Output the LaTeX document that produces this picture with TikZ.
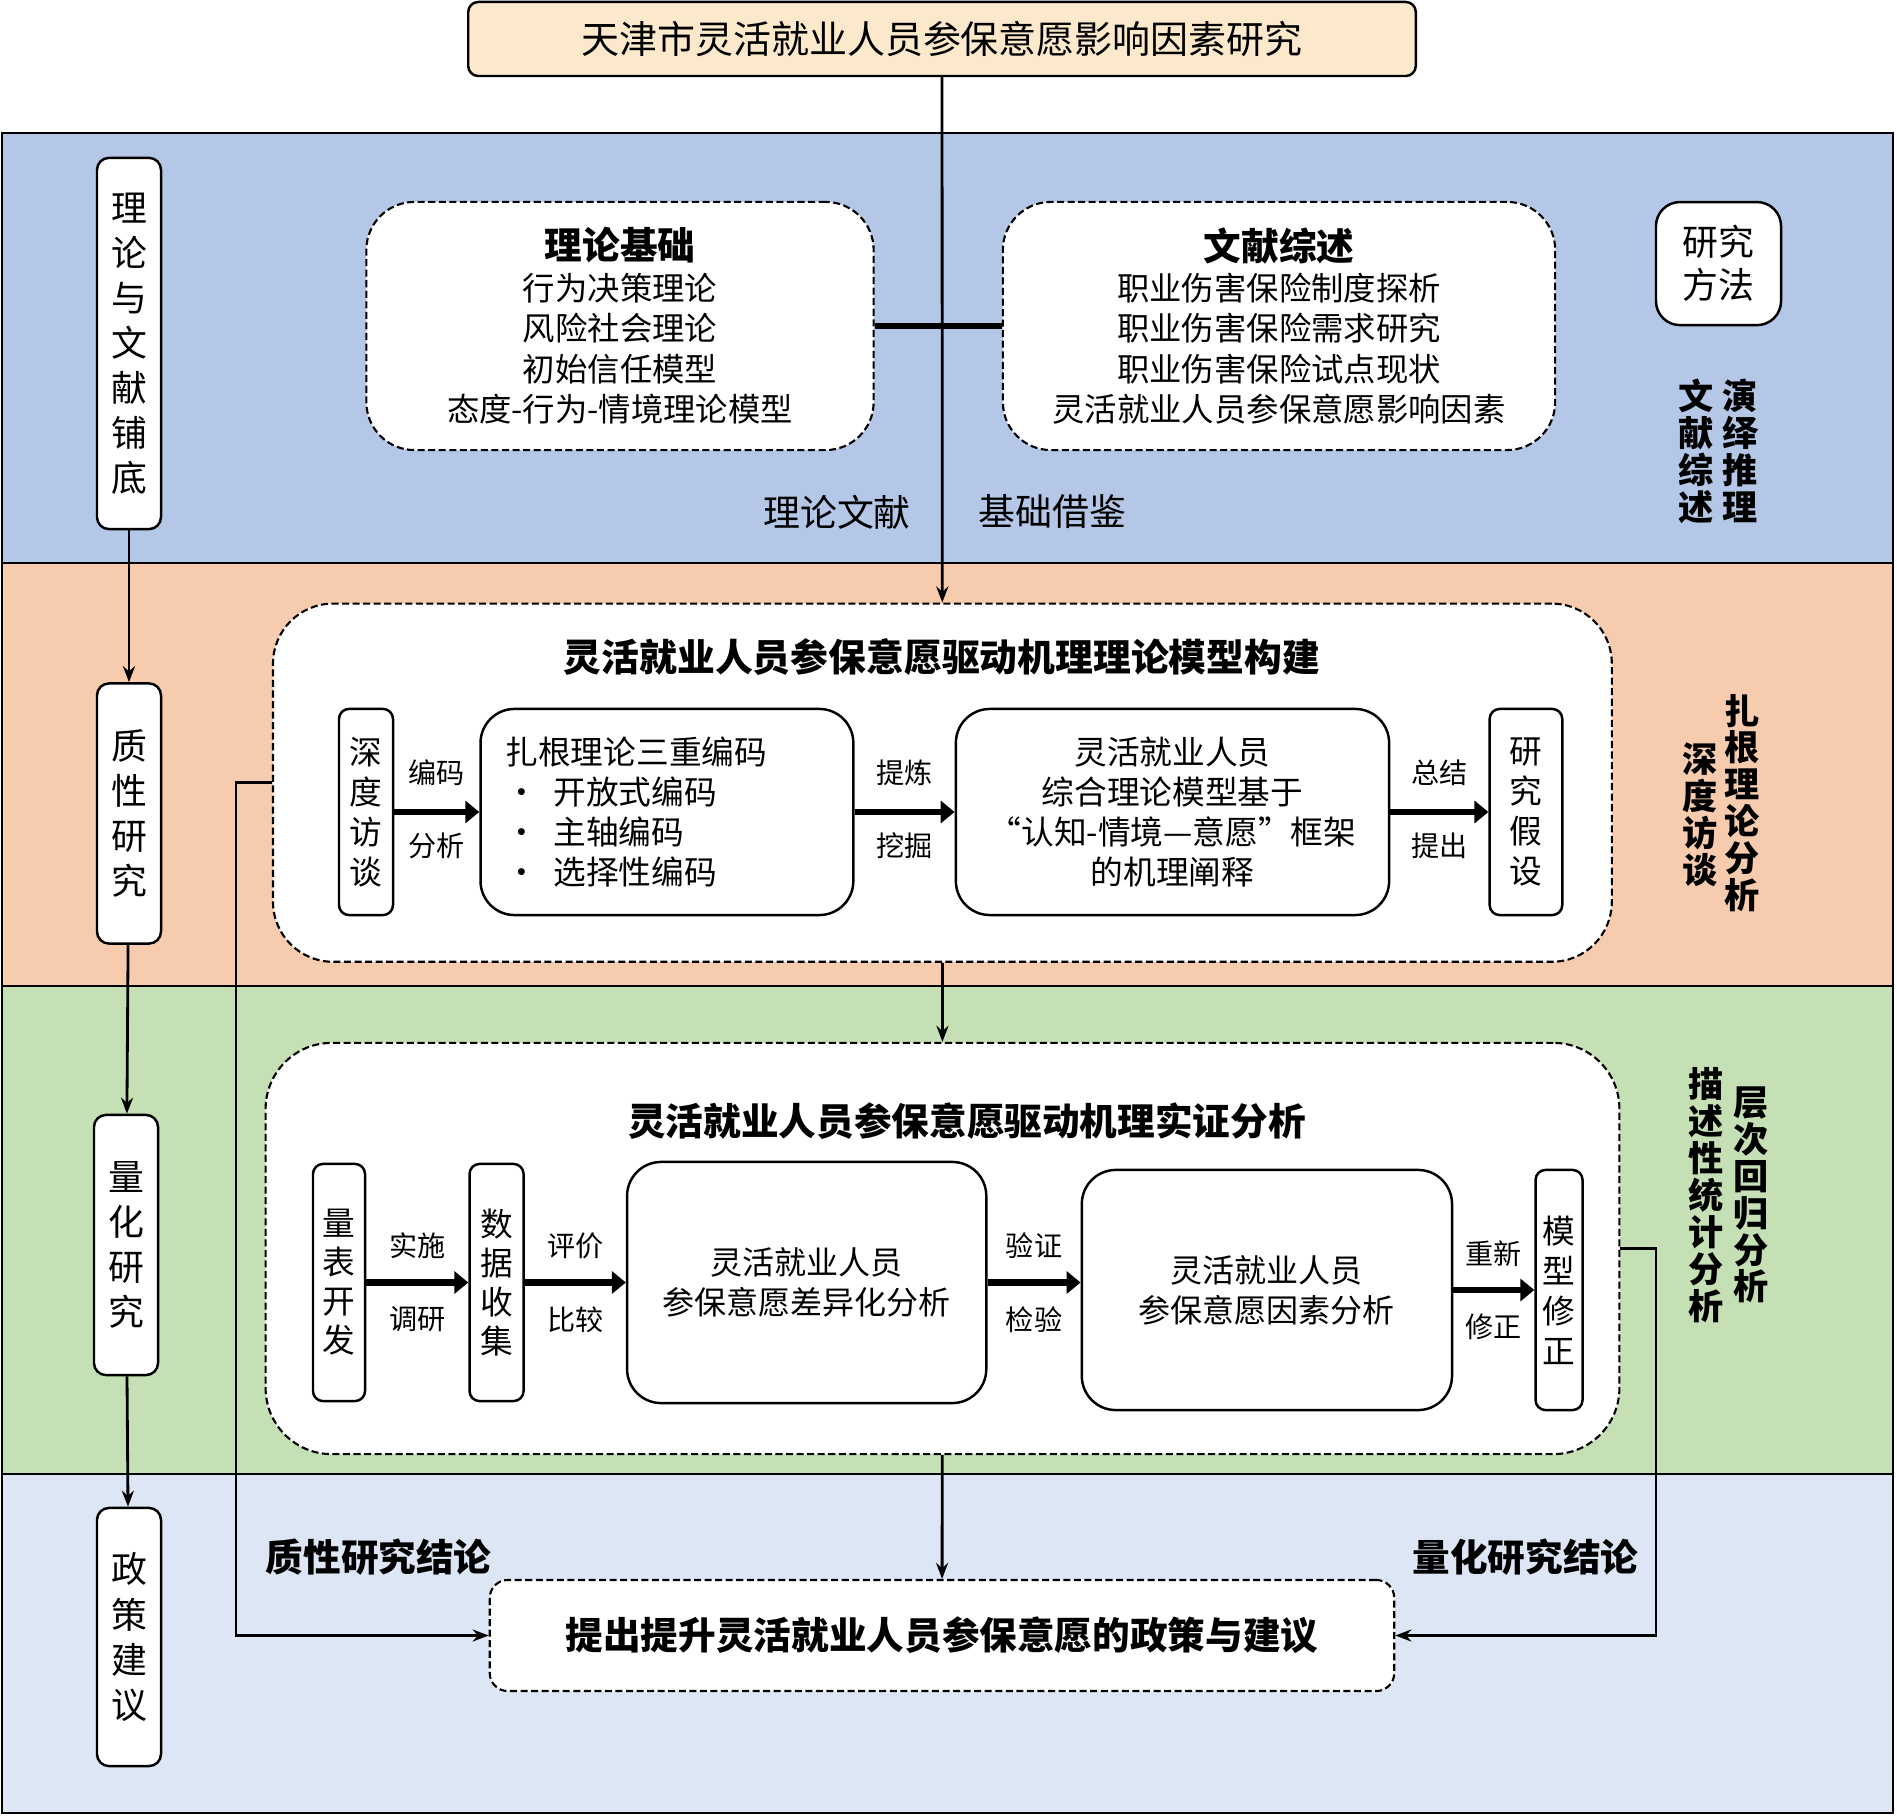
\documentclass[tikz,border=0pt]{standalone}
\usepackage{fontspec}
\setmainfont{Noto Sans CJK SC}
\usetikzlibrary{arrows.meta,positioning}
\definecolor{titlebg}{RGB}{252,233,203}
\definecolor{bandone}{RGB}{180,199,231}
\definecolor{bandtwo}{RGB}{246,203,174}
\definecolor{bandthree}{RGB}{197,224,180}
\definecolor{bandfour}{RGB}{220,230,245}
\newcommand{\setfs}[2]{\fontsize{#1}{#2}\selectfont}

\begin{document}
\begin{tikzpicture}[
  x=0.01cm, y=-0.01cm,
  band/.style={draw, line width=0.8pt},
  side/.style={draw, line width=0.7pt, fill=white, rounded corners=0.12cm, minimum width=0.64cm, minimum height=2.6cm, align=center, inner sep=0pt, font=\setfs{10.2}{12.8}},
  dbox/.style={draw, line width=0.6pt, dash pattern=on 2pt off 1pt, fill=white, align=center},
  sbox/.style={draw, line width=0.7pt, fill=white, rounded corners=0.34cm, align=center, inner sep=0pt, font=\setfs{9.3}{11.4}},
  tbox/.style={draw, line width=0.7pt, fill=white, rounded corners=0.1cm, align=center, inner sep=0pt, font=\setfs{9.3}{11.4}},
  vlab/.style={align=center, inner sep=0pt, font=\bfseries\setfs{10}{10.5}},
  lbl/.style={font=\setfs{8}{9}},
  arr/.style={-{Stealth[length=1.6mm, width=1.2mm]}, line width=0.8pt},
  thk/.style={-{Triangle[length=1.4mm, width=2.2mm]}, line width=1.8pt},
]
\useasboundingbox (0,0) rectangle (1897,1816);
\draw[band, fill=bandone] (2,133) rectangle (1893,563);
\draw[band, fill=bandtwo] (2,563) rectangle (1893,986);
\draw[band, fill=bandthree] (2,986) rectangle (1893,1474);
\draw[band, fill=bandfour] (2,1474) rectangle (1893,1813);

\node[draw, line width=0.7pt, fill=titlebg, rounded corners=0.1cm, minimum width=9.47cm, minimum height=0.74cm, font=\setfs{10.8}{13}] (ttl) at (942,39) {天津市灵活就业人员参保意愿影响因素研究};

\node[side, minimum height=3.71cm] (lwpd) at (129,343.5) {理\\论\\与\\文\\献\\铺\\底};
\node[side] (zxyj) at (129,813.5) {质\\性\\研\\究};
\node[side] (lhyj) at (126,1245) {量\\化\\研\\究};
\node[side, minimum height=2.58cm] (zcjy) at (129,1637) {政\\策\\建\\议};

\node[dbox, rounded corners=0.48cm, minimum width=5.07cm, minimum height=2.48cm, font=\setfs{9.2}{11.5}] (lljc) at (620,326) {{\bfseries\setfs{10.7}{12}理论基础}\\行为决策理论\\风险社会理论\\初始信任模型\\态度-行为-情境理论模型};
\node[dbox, rounded corners=0.48cm, minimum width=5.52cm, minimum height=2.48cm, font=\setfs{9.2}{11.5}] (wxzs) at (1279,326) {{\bfseries\setfs{10.7}{12}文献综述}\\职业伤害保险制度探析\\职业伤害保险需求研究\\职业伤害保险试点现状\\灵活就业人员参保意愿影响因素};
\node[draw, line width=0.7pt, fill=white, rounded corners=0.24cm, minimum width=1.25cm, minimum height=1.23cm, align=center, inner sep=0pt, font=\setfs{10.2}{12.2}] (yjff) at (1718.5,263.6) {研究\\方法};
\node[vlab] (yytl) at (1740,451) {演\\绎\\推\\理};
\node[vlab] (wxzsl) at (1696,451) {文\\献\\综\\述};
\node[font=\setfs{10.5}{12}] (llwx) at (837,512) {理论文献};
\node[font=\setfs{10.5}{12}] (jcjj) at (1052.5,512) {基础借鉴};

\node[dbox, rounded corners=0.6cm, minimum width=13.38cm, minimum height=3.58cm] (gbox) at (942.4,782.7) {};
\node[font=\bfseries\setfs{10.75}{13}] (gtitle) at (942,657) {灵活就业人员参保意愿驱动机理理论模型构建};
\node[tbox, minimum width=0.54cm, minimum height=2.06cm] (sdft) at (366,812) {深\\度\\访\\谈};
\node[sbox, right=8.5mm of sdft, minimum height=2.06cm, text width=3.226cm, inner xsep=0.25cm, align=left] (zgbm) {扎根理论三重编码\\\makebox[0.48cm][l]{•}开放式编码\\\makebox[0.48cm][l]{•}主轴编码\\\makebox[0.48cm][l]{•}选择性编码};
\node[sbox, right=10mm of zgbm, minimum width=4.33cm, minimum height=2.06cm] (zhll) {灵活就业人员\\综合理论模型基于\\“认知-情境—意愿”框架\\的机理阐释};
\node[tbox, right=9.8mm of zhll, minimum width=0.726cm, minimum height=2.06cm] (yjjs) {研\\究\\假\\设};
\node[vlab] (zgll) at (1742,803) {扎\\根\\理\\论\\分\\析};
\node[vlab] (sdftl) at (1700,815) {深\\度\\访\\谈};

\node[dbox, rounded corners=0.66cm, minimum width=13.53cm, minimum height=4.11cm] (hbox) at (942.5,1248.5) {};
\node[font=\bfseries\setfs{10.7}{12}] (htitle) at (967,1121.5) {灵活就业人员参保意愿驱动机理实证分析};
\node[tbox, minimum width=0.52cm, minimum height=2.37cm, font=\setfs{9.3}{11.1}] (lbkf) at (339,1282.5) {量\\表\\开\\发};
\node[tbox, right=10.2mm of lbkf, minimum width=0.54cm, minimum height=2.37cm, font=\setfs{9.3}{11.1}] (sjsj) {数\\据\\收\\集};
\node[sbox, right=10.1mm of sjsj, minimum width=3.59cm, minimum height=2.41cm, font=\setfs{9.1}{11.4}] (cyfx) {灵活就业人员\\参保意愿差异化分析};
\node[sbox, right=9.3mm of cyfx, yshift=-0.075cm, minimum width=3.7cm, minimum height=2.4cm, font=\setfs{9.1}{11.4}] (ysfx) {灵活就业人员\\参保意愿因素分析};
\node[tbox, right=8.1mm of ysfx, minimum width=0.47cm, minimum height=2.4cm] (mxxz) {模\\型\\修\\正};
\node[vlab] (ccgh) at (1750.6,1195) {层\\次\\回\\归\\分\\析};
\node[vlab] (msxtj) at (1706,1195) {描\\述\\性\\统\\计\\分\\析};

\node[dbox, rounded corners=0.18cm, minimum width=9.04cm, minimum height=1.11cm, font=\bfseries\setfs{10.7}{12}] (final) at (942,1635.5) {提出提升灵活就业人员参保意愿的政策与建议};
\node[font=\bfseries\setfs{10.7}{12}] (zxjl) at (378.7,1557) {质性研究结论};
\node[font=\bfseries\setfs{10.7}{12}] (lhjl) at (1525.6,1557) {量化研究结论};

\coordinate (qbend) at (236,0);
\coordinate (lbend) at (1656,0);

\draw[arr] (ttl) -- (gbox);
\draw[line width=1.7pt] (lljc) -- (wxzs);
\draw[arr] (gbox) -- (hbox);
\draw[arr] (hbox) -- (final);
\draw[arr] (lwpd) -- (zxyj);
\draw[arr] (zxyj) -- (lhyj);
\draw[arr] (lhyj) -- (zcjy);
\draw[thk] (sdft) -- node[lbl, above=1.1mm]{编码} node[lbl, below=0.6mm]{分析} (zgbm);
\draw[thk] (zgbm) -- node[lbl, above=1.1mm]{提炼} node[lbl, below=0.6mm]{挖掘} (zhll);
\draw[thk] (zhll) -- node[lbl, above=1.1mm]{总结} node[lbl, below=0.6mm]{提出} (yjjs);
\draw[thk] (lbkf) -- node[lbl, above=0.9mm]{实施} node[lbl, below=0.9mm]{调研} (sjsj);
\draw[thk] (sjsj) -- node[lbl, above=0.9mm]{评价} node[lbl, below=0.9mm]{比较} (cyfx);
\draw[thk] (cyfx.east) -- node[lbl, above=0.9mm]{验证} node[lbl, below=0.9mm]{检验} (cyfx.east -| ysfx.west);
\draw[thk] (ysfx) -- node[lbl, above=0.9mm]{重新} node[lbl, below=0.9mm]{修正} (mxxz);
\draw[arr] (gbox.west) -- (gbox.west -| qbend) |- (final.west);
\draw[arr] (hbox.east) -- (hbox.east -| lbend) |- (final.east);
\end{tikzpicture}
\end{document}
